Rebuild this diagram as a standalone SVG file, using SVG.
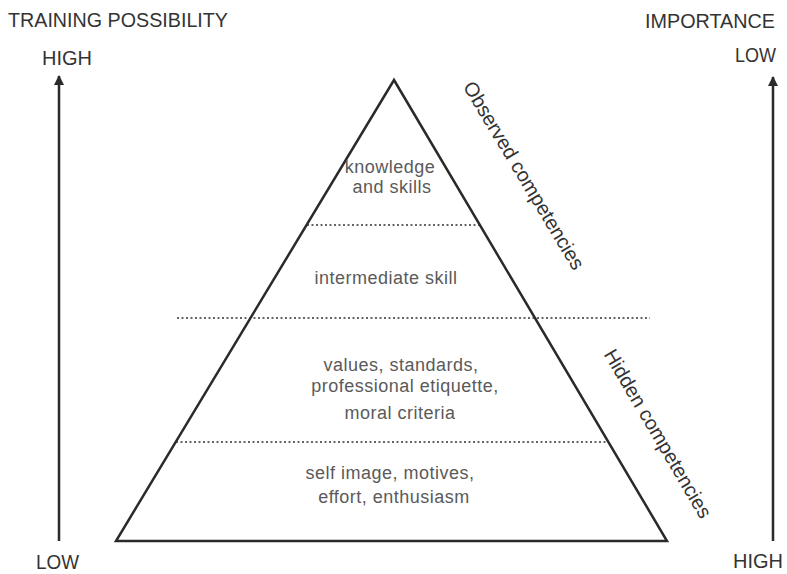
<svg xmlns="http://www.w3.org/2000/svg" width="787" height="574" viewBox="0 0 787 574">
  <style>
    .axis { font-family: "Liberation Sans", Arial, sans-serif; font-size: 20px; fill: #333; }
    .layer { font-family: "Liberation Sans", Arial, sans-serif; font-size: 18px; fill: #5a5a5a; letter-spacing: 0.5px; text-anchor: middle; }
    .side { font-family: "Liberation Sans", Arial, sans-serif; font-size: 20px; fill: #333; text-anchor: middle; }
    .edge { fill: none; stroke: #2a2a2a; stroke-width: 2.5; stroke-linejoin: miter; }
    .divider { stroke: #333; stroke-width: 1.6; stroke-dasharray: 2 2.5; }
    .shaft { stroke: #2a2a2a; stroke-width: 2.5; }
  </style>
  <defs>
    <marker id="arrowhead" viewBox="0 0 10 10" refX="9" refY="5" markerWidth="4" markerHeight="4.5" orient="auto" markerUnits="strokeWidth">
      <path d="M0,0 L10,5 L0,10 z" fill="#2a2a2a"/>
    </marker>
  </defs>

  <rect width="787" height="574" fill="#fff"/>

  <!-- axis captions -->
  <g id="training-axis">
    <text class="axis" x="8" y="27" textLength="220" lengthAdjust="spacingAndGlyphs">TRAINING POSSIBILITY</text>
    <text class="axis" x="42" y="65">HIGH</text>
    <text class="axis" x="36" y="569" textLength="43" lengthAdjust="spacingAndGlyphs">LOW</text>
  </g>
  <g id="importance-axis">
    <text class="axis" x="645" y="28" textLength="130" lengthAdjust="spacingAndGlyphs">IMPORTANCE</text>
    <text class="axis" x="735" y="62" textLength="41" lengthAdjust="spacingAndGlyphs">LOW</text>
    <text class="axis" x="733" y="568">HIGH</text>
  </g>

  <!-- vertical scale arrows -->
  <g id="connectors">
    <line class="shaft" x1="59" y1="541" x2="59" y2="76" marker-end="url(#arrowhead)"/>
    <line class="shaft" x1="773" y1="541" x2="773" y2="77" marker-end="url(#arrowhead)"/>
  </g>

  <!-- pyramid outline and layer dividers -->
  <g id="pyramid">
    <polygon class="edge" points="394,80 667,541 116,541"/>
    <line class="divider" x1="307" y1="225" x2="479" y2="225"/>
    <line class="divider" x1="177" y1="318" x2="650" y2="318"/>
    <line class="divider" x1="176" y1="442" x2="608" y2="442"/>
  </g>

  <g id="layer-knowledge">
    <text class="layer" x="390" y="173">knowledge</text>
    <text class="layer" x="392" y="193">and skills</text>
  </g>
  <g id="layer-intermediate">
    <text class="layer" x="386" y="284">intermediate skill</text>
  </g>
  <g id="layer-values">
    <text class="layer" x="401" y="371">values, standards,</text>
    <text class="layer" x="405" y="392">professional etiquette,</text>
    <text class="layer" x="400" y="419">moral criteria</text>
  </g>
  <g id="layer-self">
    <text class="layer" x="390" y="479">self image, motives,</text>
    <text class="layer" x="394" y="503">effort, enthusiasm</text>
  </g>

  <!-- slanted group labels along the right edge -->
  <g id="observed-label">
    <text class="side" transform="translate(518,179) rotate(59)">Observed competencies</text>
  </g>
  <g id="hidden-label">
    <text class="side" transform="translate(652,437) rotate(59.5)">Hidden competencies</text>
  </g>
</svg>
